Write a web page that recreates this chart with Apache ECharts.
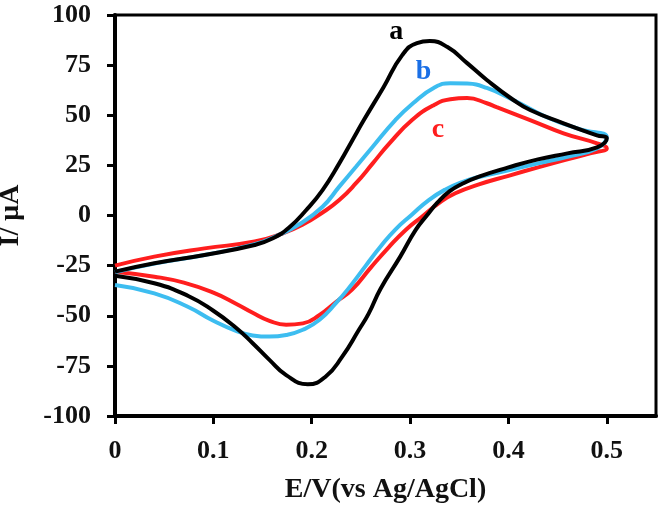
<!DOCTYPE html>
<html><head><meta charset="utf-8">
<script src="https://cdn.jsdelivr.net/npm/echarts@6/dist/echarts.min.js"></script>
<style>html,body{margin:0;padding:0;background:#fff}#c{width:661px;height:510px}</style>
</head><body><div id="c"></div>
<script>
const xTicks = [0, 0.1, 0.2, 0.3, 0.4, 0.5];
const yTicks = [-100, -75, -50, -25, 0, 25, 50, 75, 100];

// curve a (black): forward scan then reverse scan
const potentialA = [0, 0.04, 0.091, 0.142, 0.16, 0.177, 0.194, 0.211, 0.228, 0.2415, 0.253, 0.273, 0.292, 0.307, 0.320, 0.338, 0.358, 0.378, 0.405, 0.422, 0.456, 0.49, 0.5,
  0.49, 0.46, 0.43, 0.400, 0.370, 0.353, 0.340, 0.328, 0.317, 0.3057, 0.290, 0.270, 0.258, 0.248, 0.231, 0.214, 0.196, 0.174, 0.157, 0.140, 0.123, 0.1, 0.074, 0.04, 0];
const currentA = [-28, -23.8, -19.7, -14.7, -11.5, -6, 2.5, 12.7, 26, 37.7, 47.6, 64, 80, 86, 87, 84, 76, 67.6, 57.6, 52.6, 46, 40, 38.5,
  34, 31, 28, 24, 19.4, 15.8, 12, 6.5, 0, -7.2, -20.5, -36.5, -48.8, -57, -70.4, -80.4, -84.2, -79.6, -72, -63.7, -56, -47.5, -40, -33.8, -30];

// curve b (blue)
const potentialB = [0, 0.04, 0.091, 0.142, 0.165, 0.187, 0.211, 0.228, 0.245, 0.262, 0.285, 0.303, 0.324, 0.341, 0.358, 0.378, 0.405, 0.439, 0.473, 0.5,
  0.49, 0.46, 0.43, 0.400, 0.370, 0.353, 0.336, 0.319, 0.302, 0.285, 0.27, 0.255, 0.238, 0.225, 0.208, 0.191, 0.174, 0.157, 0.140, 0.123, 0.1, 0.074, 0.04, 0];
const currentB = [-28.3, -24, -19.7, -14.3, -10, -4.5, 4.4, 14.4, 24.3, 34.3, 47.6, 56, 63.6, 66, 65.8, 63.6, 57.6, 49, 43, 39,
  33.5, 29.3, 26, 22.5, 19.2, 16.7, 13, 7.7, 0.5, -7, -15.5, -25, -36, -43.5, -52, -57, -59.6, -60.4, -59.8, -57.5, -52.5, -45.5, -38.8, -34.7];

// curve c (red)
const potentialC = [0, 0.04, 0.091, 0.142, 0.17, 0.191, 0.211, 0.228, 0.245, 0.262, 0.279, 0.302, 0.324, 0.341, 0.358, 0.378, 0.388, 0.422, 0.456, 0.49, 0.5,
  0.483, 0.456, 0.43, 0.400, 0.370, 0.346, 0.329, 0.312, 0.2955, 0.278, 0.26, 0.241, 0.225, 0.208, 0.191, 0.174, 0.157, 0.140, 0.123, 0.1, 0.07, 0.04, 0];
const currentC = [-25, -20.5, -16.4, -13, -9, -4.5, 1.5, 7.7, 16.1, 26, 36, 47.6, 55, 58, 58.6, 56, 54, 47.6, 41, 36, 33.6,
  31, 27.5, 24, 19.8, 15.5, 11.1, 6.1, -0.6, -7.2, -16, -26, -37, -43, -49.6, -53.8, -54.5, -52.5, -48.5, -44, -38.5, -33.5, -30.5, -28];

const curveNames = ['a', 'b', 'c'];
const labelE = [0.286, 0.3137, 0.3283];
const labelI = [91.7, 71.7, 42.6];

const FONT = '"Liberation Serif", "Times New Roman", serif';
const lineColors = ['#000000', '#3dbdf0', '#ff1e1e'];
const labelColors = ['#000000', '#1a6fe6', '#ff1e1e'];

function pairs(xs, ys) { return xs.map((x, i) => [x, ys[i]]); }
const curves = [pairs(potentialA, currentA), pairs(potentialB, currentB), pairs(potentialC, currentC)];

const order = [2, 1, 0];
const series = order.map(i => ({
  name: curveNames[i],
  type: 'line',
  data: curves[i],
  smooth: 0.5,
  showSymbol: false,
  symbol: 'none',
  lineStyle: { color: lineColors[i], width: 4 },
  z: 3 + (2 - i),
  animation: false,
  markPoint: {
    symbol: 'circle', symbolSize: 0, animation: false,
    data: [{ coord: [labelE[i], labelI[i]], value: curveNames[i] }],
    label: { show: true, position: 'inside', formatter: curveNames[i], color: labelColors[i],
      fontFamily: FONT, fontWeight: 'bold', fontSize: 28 }
  }
}));

const chart = echarts.init(document.getElementById('c'));
chart.setOption({
  animation: false,
  backgroundColor: '#fff',
  grid: { left: 115, right: 5, top: 15, bottom: 94, outerBoundsMode: 'none', containLabel: false,
    show: true, borderColor: '#000', borderWidth: 3, backgroundColor: 'transparent' },
  xAxis: {
    type: 'value', min: 0, max: 0.55,
    name: 'E/V(vs Ag/AgCl)', nameLocation: 'middle', nameGap: 60,
    nameTextStyle: { fontFamily: FONT, fontWeight: 'bold', fontSize: 28, color: '#111' },
    axisLine: { show: true, onZero: false, lineStyle: { color: '#000', width: 4 } },
    axisTick: { show: true, length: 8, lineStyle: { color: '#000', width: 3 }, customValues: xTicks },
    axisLabel: { fontFamily: FONT, fontWeight: 'bold', fontSize: 26, color: '#111', margin: 22, customValues: xTicks,
      formatter: v => String(v) },
    splitLine: { show: false }
  },
  yAxis: {
    type: 'value', min: -100, max: 100, interval: 25,
    name: 'I/ μA', nameLocation: 'middle', nameGap: 90, nameRotate: 90,
    nameTextStyle: { fontFamily: FONT, fontWeight: 'bold', fontSize: 28, color: '#111' },
    axisLine: { show: true, onZero: false, lineStyle: { color: '#000', width: 4 } },
    axisTick: { show: true, length: 8, lineStyle: { color: '#000', width: 3 }, customValues: yTicks },
    axisLabel: { fontFamily: FONT, fontWeight: 'bold', fontSize: 26, color: '#111', margin: 24, customValues: yTicks },
    splitLine: { show: false }
  },
  series: series
});
</script>
</body></html>
